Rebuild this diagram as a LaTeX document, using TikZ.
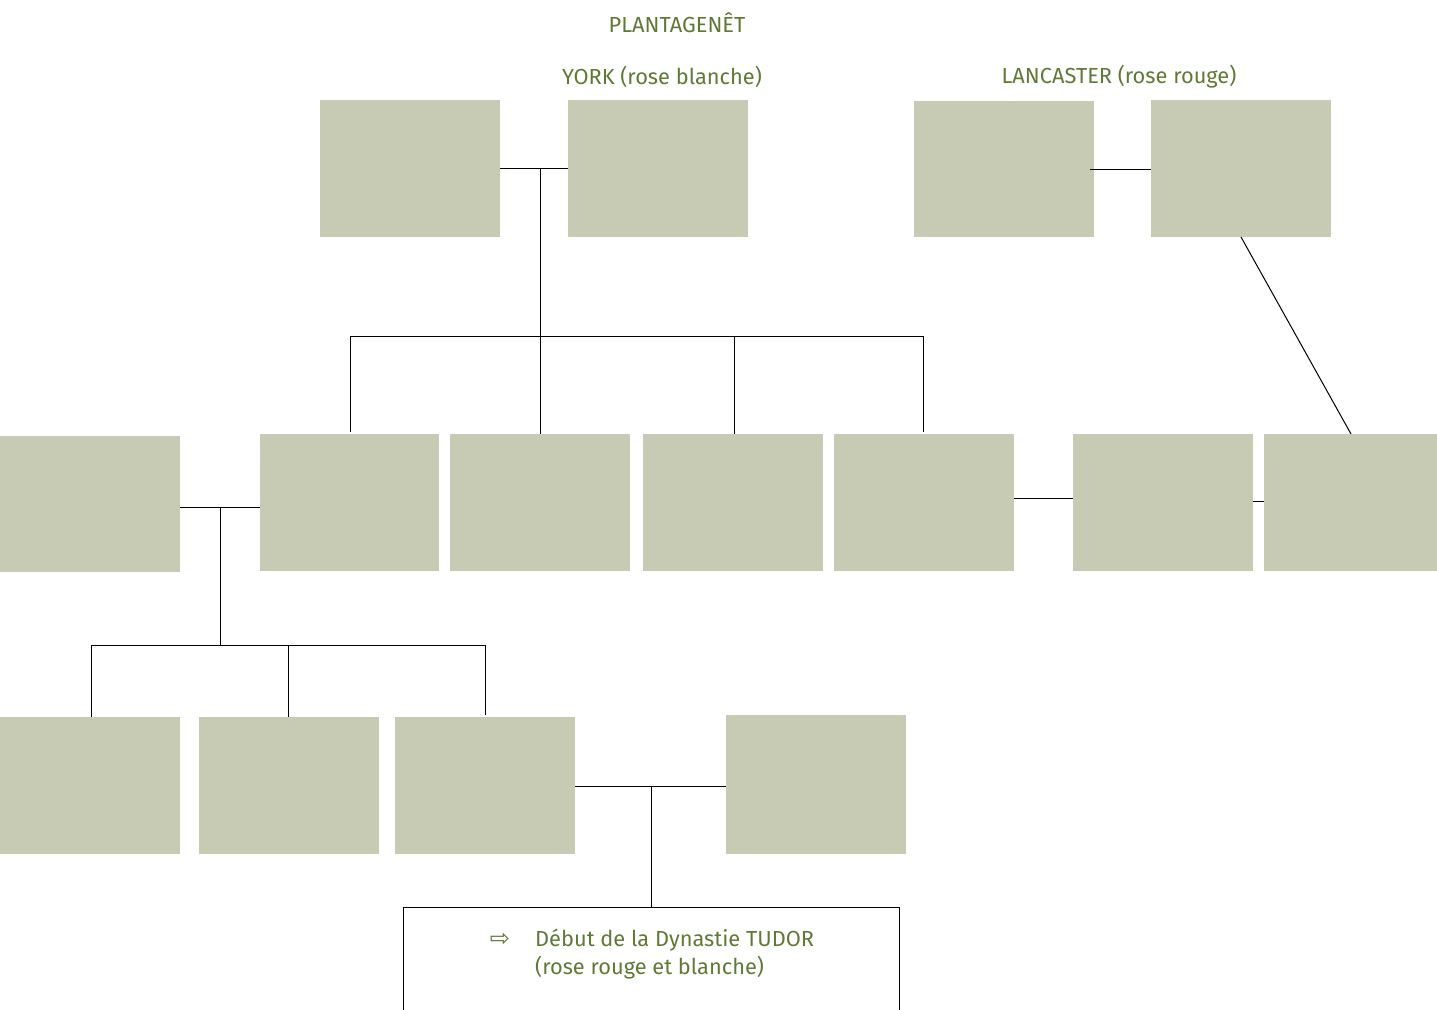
\documentclass[tikz,border=0pt]{standalone}
\usepackage{fontspec}
\setmainfont{Fira Sans}
\newfontfamily\symfont{DejaVu Sans}
\definecolor{boxfill}{HTML}{C7CBB3}
\definecolor{txtgreen}{HTML}{5E7A35}
\begin{document}
\begin{tikzpicture}[x=1pt,y=-1pt,
  pbox/.style={fill=boxfill,draw=none,minimum width=180pt,minimum height=137pt,inner sep=0pt,outer sep=0pt,anchor=north west},
  lbl/.style={text=txtgreen,font=\fontsize{21.8}{28}\selectfont,inner sep=0pt},
  conn/.style={draw=black,line width=1pt}]
\useasboundingbox (0,0) rectangle (1437,1009);
\clip (0,0) rectangle (1437,1009);
% row 1
\node[pbox] (A) at (320,100) {};
\node[pbox] (B) at (568,100) {};
\node[pbox,minimum height=136pt] (C) at (914,101) {};
\node[pbox] (D) at (1151,100) {};
% row 2
\node[pbox,minimum height=136pt] (E) at (0,436) {};
\node[pbox,minimum width=179pt] (F) at (260,434) {};
\node[pbox] (G) at (450,434) {};
\node[pbox] (H) at (643,434) {};
\node[pbox] (I) at (834,434) {};
\node[pbox] (J) at (1073,434) {};
\node[pbox,minimum width=173pt] (K) at (1264,434) {};
% row 3
\node[pbox] (L) at (0,717) {};
\node[pbox] (M) at (199,717) {};
\node[pbox] (N) at (395,717) {};
\node[pbox,minimum height=139pt] (O) at (726,715) {};
% tudor box
\node[draw=black,line width=1pt,minimum width=496pt,minimum height=130pt,inner sep=0pt,anchor=north west] (T) at (403,907) {};
% titles
\node[lbl] (plan) at (677,23) {PLANTAGENÊT};
\node[lbl] (york) at (662,77) {YORK (rose blanche)};
\node[lbl] (lanc) at (1119,77) {LANCASTER (rose rouge)};
\node[lbl,anchor=center] (arr) at (500,940) {\symfont\fontsize{24}{28}\selectfont ⇨};
\node[lbl,anchor=west,align=left] (tud) at (535,954) {Début de la Dynastie TUDOR\\(rose rouge et blanche)};
% coordinates
\coordinate (ab) at (540,168);
\coordinate (bar1) at (540,336);
\coordinate (ef) at (220,507);
\coordinate (bar2) at (220,645);
\coordinate (no) at (651,786);
% connectors
\draw[conn] (A.east |- ab) -- (B.west |- ab);
\draw[conn] (ab) -- (bar1);
\draw[conn] (350,432) -- (350,336) -- (923,336) -- (923,432);
\draw[conn] (bar1) -- (bar1 |- G.north);
\draw[conn] (734,336) -- (734,434);
\draw[conn] (1090,169) -- (D.west |- 0,169);
\draw[conn] (1241,237) -- (1351,434);
\draw[conn] (I.east |- 0,498) -- (J.west |- 0,498);
\draw[conn] (J.east |- 0,501) -- (K.west |- 0,501);
\draw[conn] (E.east |- ef) -- (F.west |- ef);
\draw[conn] (ef) -- (bar2);
\draw[conn] (91,717) -- (91,645) -- (485,645) -- (485,715);
\draw[conn] (288,645) -- (288,717);
\draw[conn] (N.east |- no) -- (O.west |- no);
\draw[conn] (no) -- (T.north -| no);
\end{tikzpicture}
\end{document}
